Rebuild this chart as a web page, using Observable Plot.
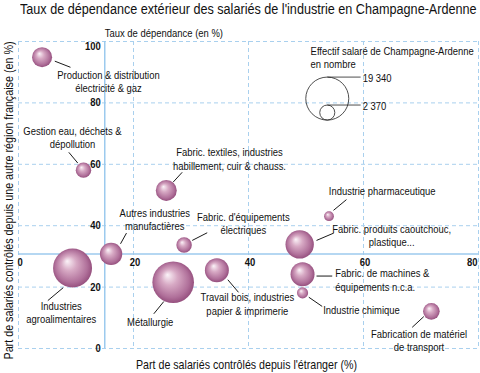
<!DOCTYPE html>
<html><head><meta charset="utf-8">
<script src="https://cdn.jsdelivr.net/npm/d3@7"></script>
<script src="https://cdn.jsdelivr.net/npm/@observablehq/plot@0.6"></script>
<style>
body{margin:0;background:#fff;}
#title{height:18px;line-height:18px;padding-left:20px;white-space:nowrap;overflow:visible;}
#title span{display:inline-block;font-family:"Liberation Sans",Arial,sans-serif;font-size:14px;color:#111;transform:scaleX(0.902);transform-origin:0 50%;}
</style></head><body>
<div id="title"><span>Taux de dépendance extérieur des salariés de l'industrie en Champagne-Ardenne</span></div>
<div id="chart"></div>
<script>
// ---- Données ----
const secteurs = ["Production & distribution électricité & gaz","Gestion eau, déchets & dépollution","Fabric. textiles, industries habillement, cuir & chauss.","Autres industries manufactières","Industries agroalimentaires","Métallurgie","Fabric. d'équipements électriques","Travail bois, industries papier & imprimerie","Industrie pharmaceutique","Fabric. produits caoutchouc, plastique...","Fabric. de machines & équipements n.c.a.","Industrie chimique","Fabrication de matériel de transport"];
const partEtranger =    [4.1, 11.3, 25.7, 16.1, 9.4, 26.9, 28.8, 34.5, 54.0, 48.9, 49.4, 49.4, 71.8];
const partAutreRegion = [94.9, 58.1, 51.5, 30.8, 26.2, 21.6, 33.7, 25.5, 43.1, 33.9, 24.2, 18.1, 12.1];
const effectifs =       [4200, 2500, 4600, 5200, 15900, 18100, 2500, 6000, 1000, 8400, 6000, 1300, 2900];

// Étiquettes (positions en unités de données)
const etiquettes = ["Production & distribution\nélectricité & gaz","Gestion eau, déchets &\ndépollution","Fabric. textiles, industries\nhabillement, cuir & chauss.","Autres industries\nmanufactières","Industries\nagroalimentaires","Métallurgie","Fabric. d'équipements\nélectriques","Travail bois, industries\npapier & imprimerie","Industrie pharmaceutique","Fabric. produits caoutchouc,\nplastique...","Fabric. de machines &\néquipements n.c.a.","Industrie chimique","Fabrication de matériel\nde transport"];
const etiqX = [15.65, 9.39, 36.7, 23.7, 7.43, 22.9, 39.1, 39.8, 63.25, 64.9, 55.1, 59.65, 69.65];
const etiqY = [87.0, 68.8, 61.8, 42.1, 11.8, 8.57, 40.9, 14.6, 51.5, 37.0, 22.4, 12.7, 2.6];
const etiqAncre = ["middle","middle","middle","middle","middle","middle","middle","middle","middle","middle","start","middle","middle"];
const flecheX1 = [9.04, 8.75, 28.47, 18.78, 5.1, 23.53, 32.82, 38.26, 57.04, 54.83, 54.56, 52.82, 68.47];
const flecheY1 = [91.6, 63.9, 57.4, 37.6, 15.6, 11.3, 37.7, 18.3, 48.5, 37.6, 23.6, 13.7, 6.9];
const flecheX2 = [6.31, 10.31, 26.9, 17.74, 7.77, 25.27, 30.21, 36.4, 54.78, 51.83, 51.83, 50.49, 70.49];
const flecheY2 = [93.6, 60.4, 54.2, 34.1, 19.8, 15.3, 35.2, 22.4, 45.0, 35.2, 23.6, 16.7, 10.4];

const ticksX = [0, 20, 40, 60, 80];
const ticksY = [0, 20, 40, 60, 80, 100];
const moyenneEtranger = 15.0;
const moyenneAutreRegion = 30.8;

const legendeValeurs = [19340, 2370];
const legendeLabels = ["19 340", "2 370"];
const legendeTitre = "Effectif salaré de Champagne-Ardenne\nen nombre";
const legendeX = 53.7, legendeBasY = 74.4, legendeFinX = 59.5, legendeTitreX = 50.8, legendeTitreY = 94.8;

// ---- Construction ----
const police = '"Liberation Sans",Arial,sans-serif';
const etroit = 0.86;
const rMax = 21.5, effMax = 19340;
const rpx = v => rMax * Math.sqrt(v / effMax);
const bulles = secteurs.map((s, i) => ({s, x: partEtranger[i], y: partAutreRegion[i], n: effectifs[i]})).sort((a, b) => b.n - a.n);
const annot = etiquettes.map((t, i) => ({t, x: etiqX[i], y: etiqY[i], a: etiqAncre[i]}));
const fleches = flecheX1.map((x1, i) => ({x1, y1: flecheY1[i], x2: flecheX2[i], y2: flecheY2[i]}));
const grille = "#a9d0ee", axe = "#9ccaee";

const marks = [
  Plot.ruleX(ticksX, {stroke: grille, strokeDasharray: "4,3", strokeWidth: 1}),
  Plot.ruleY(ticksY, {stroke: grille, strokeDasharray: "4,3", strokeWidth: 1}),
  Plot.ruleX([moyenneEtranger], {stroke: axe, strokeWidth: 1.5}),
  Plot.ruleY([moyenneAutreRegion], {stroke: axe, strokeWidth: 1.5}),
  Plot.text(ticksY.filter(d => d < 100), {x: () => moyenneEtranger, y: d => d, text: d => String(d), textAnchor: "end", dx: -4, fontWeight: "bold", fontSize: 11}),
  Plot.text(ticksY.filter(d => d === 100), {x: () => moyenneEtranger, y: d => d, text: d => String(d), textAnchor: "end", lineAnchor: "top", dx: -4, dy: 1, fontWeight: "bold", fontSize: 11}),
  Plot.text(ticksX.filter(d => d < 80), {x: d => d, y: () => moyenneAutreRegion, text: d => String(d), lineAnchor: "top", dy: 4, dx: 1.5, fontWeight: "bold", fontSize: 11}),
  Plot.text(ticksX.filter(d => d === 80), {x: d => d, y: () => moyenneAutreRegion, text: d => String(d), lineAnchor: "top", textAnchor: "end", dy: 4, dx: -1, fontWeight: "bold", fontSize: 11}),
  Plot.text(["Taux de dépendance (en %)"], {x: () => moyenneEtranger, frameAnchor: "top", textAnchor: "start", lineAnchor: "middle", dy: -8.5, fontSize: 11}),
  Plot.text(["Part de salariés contrôlés depuis une autre région française (en %)"], {frameAnchor: "left", rotate: -90, textAnchor: "middle", lineAnchor: "middle", dx: -10, dy: 5.5, fontSize: 12.5}),
  Plot.text(["Part de salariés contrôlés depuis l'étranger (%)"], {frameAnchor: "bottom", textAnchor: "middle", lineAnchor: "middle", dy: 17, dx: -2, fontSize: 12.4}),
  Plot.dot(bulles, {x: "x", y: "y", r: "n", fill: "url(#bulle)", stroke: "none"}),
  Plot.link(fleches, {x1: "x1", y1: "y1", x2: "x2", y2: "y2", stroke: "#000", strokeWidth: 0.9, ariaLabel: "fleches"}),
  Plot.text(annot.filter(d => d.a === "middle"), {x: "x", y: "y", text: "t", textAnchor: "middle", lineHeight: 1.2, fontSize: 11}),
  Plot.text(annot.filter(d => d.a === "start"), {x: "x", y: "y", text: "t", textAnchor: "start", lineHeight: 1.2, fontSize: 11}),
  Plot.text([legendeTitre], {x: () => legendeTitreX, y: () => legendeTitreY, textAnchor: "start", lineAnchor: "middle", lineHeight: 1.15, fontSize: 11})
];
legendeValeurs.forEach((v, i) => {
  const r = rpx(v);
  marks.push(Plot.dot([v], {x: () => legendeX, y: () => legendeBasY, r: d => d, dy: -r, fill: "none", stroke: "#222", strokeWidth: 0.8}));
  marks.push(Plot.link([v], {x1: () => legendeX, x2: () => legendeFinX, y1: () => legendeBasY, y2: () => legendeBasY, dy: -2 * r, stroke: "#222", strokeWidth: 0.8}));
  marks.push(Plot.text([legendeLabels[i]], {x: () => legendeFinX, y: () => legendeBasY, dy: -2 * r + 1, dx: 2, textAnchor: "start", fontSize: 11}));
});

const plot = Plot.plot({
  width: 480, height: 355,
  marginLeft: 18, marginRight: 2, marginTop: 23, marginBottom: 25,
  style: {fontFamily: police, color: "#111", background: "#fff", overflow: "visible"},
  x: {domain: [0, 80], axis: null},
  y: {domain: [0, 100], axis: null},
  r: {type: "sqrt", domain: [0, effMax], range: [0, rMax]},
  marks
});

const ns = "http://www.w3.org/2000/svg";
const defs = document.createElementNS(ns, "defs");
defs.innerHTML = `
<radialGradient id="bulle" cx="0.5" cy="0.5" r="0.55" fx="0.36" fy="0.32">
  <stop offset="0" stop-color="#fbf3f8"/>
  <stop offset="0.35" stop-color="#d7a9c4"/>
  <stop offset="0.75" stop-color="#b0709a"/>
  <stop offset="1" stop-color="#8c4474"/>
</radialGradient>
<marker id="pointe" viewBox="0 0 10 10" refX="10" refY="5" markerWidth="7" markerHeight="6" markerUnits="userSpaceOnUse" orient="auto">
  <path d="M0,0.5L10,5L0,9.5z" fill="#000"/>
</marker>`;
plot.insertBefore(defs, plot.firstChild);
plot.querySelectorAll('g[aria-label="fleches"] path').forEach(p => p.setAttribute("marker-end", "url(#pointe)"));
// police condensée : compression horizontale de chaque texte autour de son ancre
plot.querySelectorAll("text").forEach(t => {
  const tr = t.getAttribute("transform") || "";
  t.setAttribute("transform", (tr + ` scale(${etroit},1)`).trim());
});
document.getElementById("chart").appendChild(plot);
</script>
</body></html>
